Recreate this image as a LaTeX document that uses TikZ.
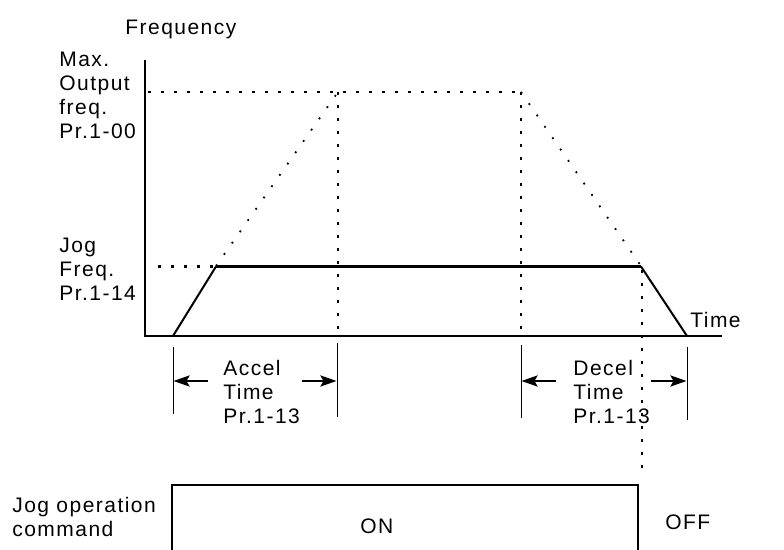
\documentclass[tikz,border=0pt]{standalone}
\usepackage{fontspec}
\setmainfont{Liberation Sans}[LetterSpace=7]
\usepackage{tikz}
\usetikzlibrary{arrows.meta}

\begin{document}
\begin{tikzpicture}[x=0.5pt, y=-0.5pt, font=\fontsize{10.5}{12}\selectfont,
    lbl/.style={anchor=north west, inner sep=0pt, align=left},
    pointilles/.style={line width=1.4pt, dash pattern=on 1.4pt off 5.1pt},
    pente/.style={line width=0.9pt, dash pattern=on 0.9pt off 6pt},
    cote/.style={line width=0.5pt},
    fleche/.style={-{Stealth[length=8pt, width=5.5pt, inset=1.5pt]}, line width=1.2pt}]
    \useasboundingbox (0,0) rectangle (784,550);
    % axes
    \draw[line width=1pt] (145,60) -- (145,336) -- (722,336);
    % niveaux en pointilles
    \draw[pointilles] (148,92) -- (521,92); % max
    \draw[pointilles] (158,266.5) -- (214,266.5); % jog
    \draw[pointilles] (338,92) -- (338,336);
    \draw[pointilles] (521,92) -- (521,336);
    \draw[pointilles] (642,270) -- (642,472);
    % rampes max
    \draw[pente] (216,266) -- (338,92);
    \draw[pente] (521,92) -- (641,266);
    % profil jog
    \draw[line width=1pt] (173,336) -- (216,266.5);
    \draw[line width=1.6pt] (216,266.5) -- (641,266.5);
    \draw[line width=1pt] (641,266.5) -- (687,336);
    % cotes
    \draw[cote] (173,347) -- (173,414);
    \draw[cote] (337,343) -- (337,417);
    \draw[cote] (521,345) -- (521,418);
    \draw[cote] (687,347) -- (687,420);
    \draw[fleche] (208,381) -- (173.5,381);
    \draw[fleche] (302,381) -- (336.5,381);
    \draw[fleche] (556,381) -- (521.5,381);
    \draw[fleche] (651,381) -- (686.5,381);
    % commande
    \draw[line width=1pt] (172,552) -- (172,485) -- (638,485) -- (638,552);
    % etiquettes
    \node[lbl] (freqLabel) at (125,20) {Frequency};
    \node[lbl] (maxLabel) at (59,52) {Max.\\Output\\freq.\\Pr.1-00};
    \node[lbl] (jogLabel) at (59,238) {Jog\\Freq.\\Pr.1-14};
    \node[lbl] (timeLabel) at (690,312) {Time};
    \node[lbl] (accelLabel) at (223,360) {Accel\\Time\\Pr.1-13};
    \node[lbl] (decelLabel) at (573,360) {Decel\\Time\\Pr.1-13};
    \node[lbl] (cmdLabel) at (12,497) {Jog operation\\command};
    \node[lbl] (onLabel) at (360,518) {ON};
    \node[lbl] (offLabel) at (665,514) {OFF};
\end{tikzpicture}
\end{document}
